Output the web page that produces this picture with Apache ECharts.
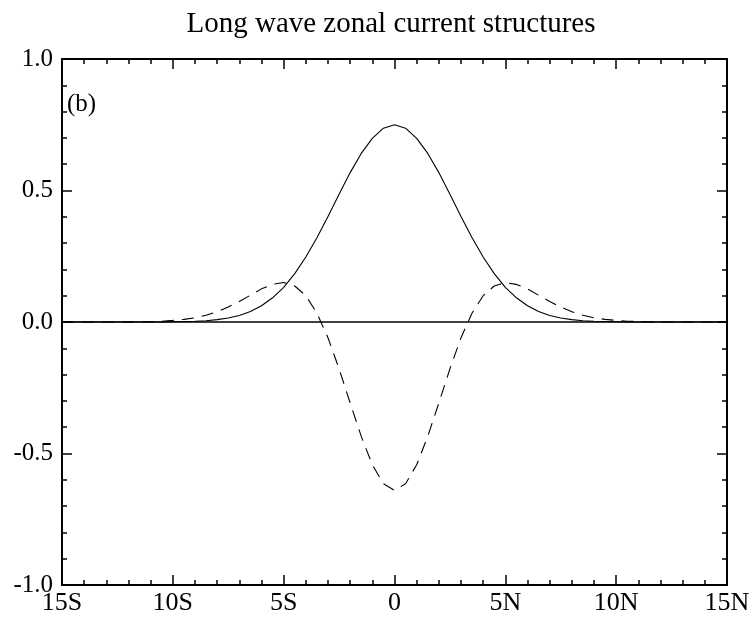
<!DOCTYPE html>
<html>
<head>
<meta charset="utf-8">
<script src="https://cdn.jsdelivr.net/npm/echarts@6/dist/echarts.min.js"></script>
<style>
html,body{margin:0;padding:0;background:#fff;}
#chart{width:755px;height:621px;}
</style>
</head>
<body>
<div id="chart"></div>
<script>
const titleText = 'Long wave zonal current structures';
const panelLabel = '(b)';
const xTickLabels = ['15S','10S','5S','0','5N','10N','15N'];
const yTickLabels = ['-1.0','-0.5','0.0','0.5','1.0'];

const latitudes = [-15,-14.5,-14,-13.5,-13,-12.5,-12,-11.5,-11,-10.5,-10,-9.5,-9,-8.5,-8,-7.5,-7,-6.5,-6,-5.5,-5,-4.5,-4,-3.5,-3,-2.5,-2,-1.5,-1,-0.5,0,
  0.5,1,1.5,2,2.5,3,3.5,4,4.5,5,5.5,6,6.5,7,7.5,8,8.5,9,9.5,10,10.5,11,11.5,12,12.5,13,13.5,14,14.5,15];

const solidValues = [0,0,0,0,0,0,0,0,0,0,0.001,0.002,0.003,0.005,0.009,0.015,0.025,0.040,0.062,0.092,0.132,0.184,0.247,0.320,0.401,0.486,0.568,0.641,0.698,0.737,0.750,
  0.737,0.698,0.641,0.568,0.486,0.401,0.320,0.247,0.184,0.132,0.092,0.062,0.040,0.025,0.015,0.009,0.005,0.003,0.002,0.001,0,0,0,0,0,0,0,0,0,0];

const dashedValues = [0,0,0,0,0,0,0.0003,0.0008,0.0016,0.003,0.006,0.010,0.016,0.026,0.039,0.057,0.078,0.102,0.126,0.143,0.150,0.137,0.100,0.034,-0.060,-0.178,-0.308,-0.435,-0.543,-0.615,-0.640,
  -0.615,-0.543,-0.435,-0.308,-0.178,-0.060,0.034,0.100,0.137,0.150,0.143,0.126,0.102,0.078,0.057,0.039,0.026,0.016,0.010,0.006,0.003,0.0016,0.0008,0.0003,0,0,0,0,0,0];

const FONT = '"Liberation Serif", "DejaVu Serif", serif';
const chart = echarts.init(document.getElementById('chart'), null, {renderer:'canvas'});

function axisCommon(){
  return {
    axisLine:{show:true, onZero:false, lineStyle:{color:'#000', width:2}},
    axisTick:{show:true, inside:true, length:10, lineStyle:{color:'#000', width:1.5}},
    minorTick:{show:true, splitNumber:5, length:5, lineStyle:{color:'#000', width:1.5}},
    splitLine:{show:false}
  };
}

const xBase = {type:'value', min:-15, max:15, interval:5};
const yBase = {type:'value', min:-1, max:1, interval:0.5};

const option = {
  animation:false,
  backgroundColor:'#fff',
  grid:{left:62, right:28, top:59, bottom:36, containLabel:false},
  xAxis:[
    Object.assign({}, xBase, axisCommon(), {position:'bottom',
      axisLabel:{show:true, margin:5, color:'#000', fontFamily:FONT, fontSize:26,
        formatter:function(v){ return xTickLabels[Math.round((v+15)/5)]; }}}),
    Object.assign({}, xBase, axisCommon(), {position:'top', axisLabel:{show:false}})
  ],
  yAxis:[
    Object.assign({}, yBase, axisCommon(), {position:'left',
      axisLabel:{show:true, margin:9, color:'#000', fontFamily:FONT, fontSize:25,
        formatter:function(v){ return yTickLabels[Math.round((v+1)/0.5)]; }}}),
    Object.assign({}, yBase, axisCommon(), {position:'right', axisLabel:{show:false}})
  ],
  graphic:[
    {type:'text', x:391, y:24, style:{text:titleText, fill:'#000', font:'29px ' + FONT, textAlign:'center', textVerticalAlign:'middle'}},
    {type:'text', x:67, y:104, style:{text:panelLabel, fill:'#000', font:'25px ' + FONT, textAlign:'left', textVerticalAlign:'middle'}}
  ],
  series:[
    {type:'line', xAxisIndex:0, yAxisIndex:0, showSymbol:false, smooth:false,
      data: latitudes.map((x,i)=>[x, solidValues[i]]),
      lineStyle:{color:'#000', width:1.1, type:'solid'},
      markLine:{silent:true, symbol:['none','none'], label:{show:false},
        lineStyle:{color:'#000', width:1.5, type:'solid'}, data:[{yAxis:0}]}
    },
    {type:'line', xAxisIndex:0, yAxisIndex:0, showSymbol:false, smooth:false,
      data: latitudes.map((x,i)=>[x, dashedValues[i]]),
      lineStyle:{color:'#000', width:1.1, type:[12,8]}
    }
  ]
};
chart.setOption(option);
</script>
</body>
</html>
